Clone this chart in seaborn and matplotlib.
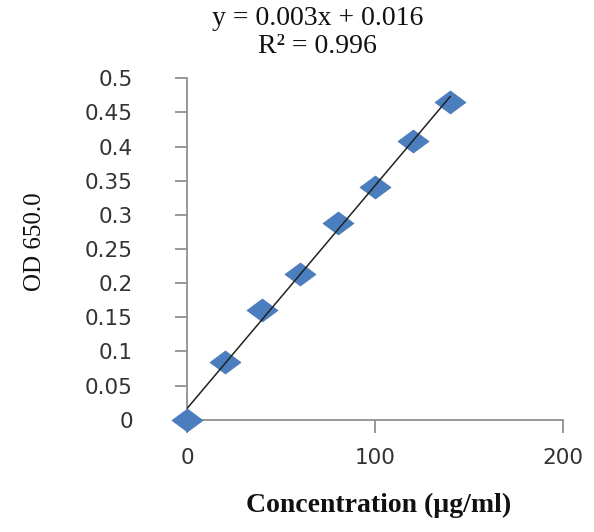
import numpy as np
import pandas as pd
import matplotlib
matplotlib.use("Agg")
import matplotlib.pyplot as plt
import seaborn as sns
from matplotlib.path import Path

# 标准曲线数据
concentration = [0, 20, 40, 60, 80, 100, 120, 140]
od_values = [0.0, 0.085, 0.161, 0.213, 0.288, 0.340, 0.408, 0.465]
x_ticks = [0, 100, 200]
y_ticks = [0, 0.05, 0.1, 0.15, 0.2, 0.25, 0.3, 0.35, 0.4, 0.45, 0.5]
y_ticklabels = ["0", "0.05", "0.1", "0.15", "0.2", "0.25", "0.3", "0.35", "0.4", "0.45", "0.5"]

df = pd.DataFrame({"conc": concentration, "od": od_values})

sns.set_theme(style="ticks")
plt.rcParams['font.family'] = ['DejaVu Sans']

fig = plt.figure(figsize=(5.94, 5.32), dpi=100)
ax = fig.add_axes([0.315, 0.211, 0.633, 0.642])

# 扁菱形标记
diamond = Path([(-1.35, 0), (0, 1), (1.35, 0), (0, -1), (-1.35, 0)],
               [Path.MOVETO, Path.LINETO, Path.LINETO, Path.LINETO, Path.CLOSEPOLY])

sns.regplot(data=df, x="conc", y="od", ax=ax, ci=None, truncate=True, marker=diamond,
            scatter_kws=dict(s=500, color="#4A7EBF", alpha=1,
                             edgecolors="#4A78B0", linewidths=0.5, zorder=3, clip_on=False),
            line_kws=dict(color="#222222", lw=1.1, zorder=4))

ax.set_xlim(0, 200)
ax.set_ylim(0, 0.5)
ax.set_xticks(x_ticks)
ax.set_yticks(y_ticks)
ax.set_yticklabels(y_ticklabels)
ax.tick_params(axis="both", labelsize=15.5, labelcolor="#333333", color="#888888",
               length=9, width=1.2, direction="out")
ax.tick_params(axis="x", pad=11)
ax.tick_params(axis="y", pad=30)

for side in ["top", "right"]:
    ax.spines[side].set_visible(False)
for side in ["left", "bottom"]:
    ax.spines[side].set_color("#888888")
    ax.spines[side].set_linewidth(1.2)

ax.set_xlabel("Concentration (µg/ml)", family="Liberation Serif", fontsize=20,
              fontweight="bold", color="#111111")
ax.xaxis.set_label_coords(0.51, -0.215)
ax.set_ylabel("OD 650.0", family="Liberation Serif", fontsize=18, color="#111111")
ax.yaxis.set_label_coords(-0.375, 0.52)

fig.text(0.535, 0.966, "y = 0.003x + 0.016", family="Liberation Serif", fontsize=20,
         ha="center", va="center", color="#111111")
fig.text(0.535, 0.913, "R² = 0.996", family="Liberation Serif", fontsize=20,
         ha="center", va="center", color="#111111")

fig.savefig("out.png", dpi=100)
plt.close(fig)
